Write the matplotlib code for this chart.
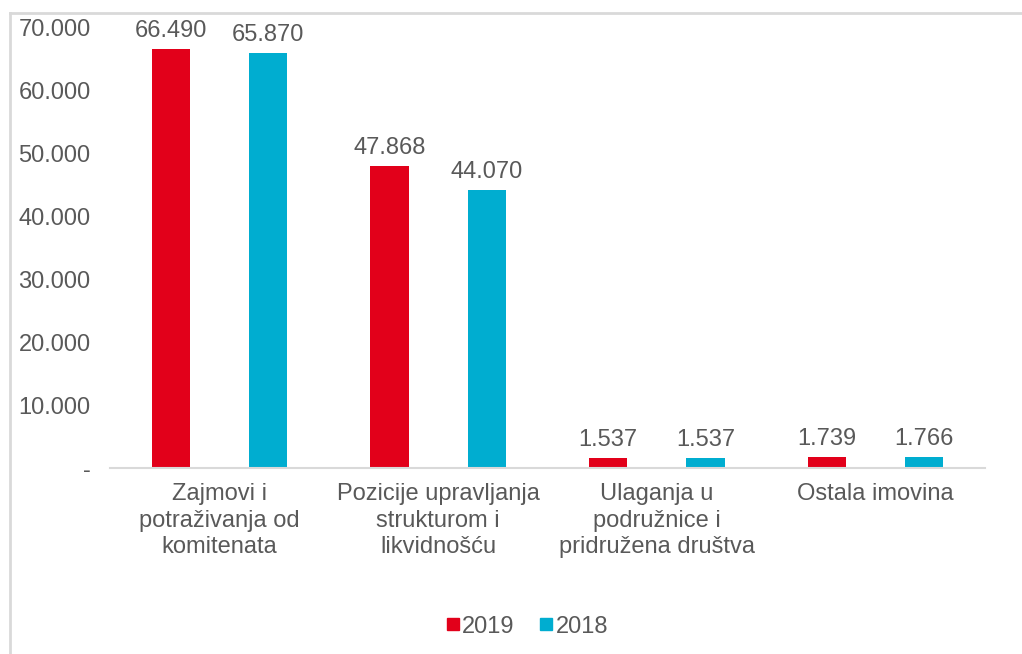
import numpy as np
import matplotlib.pyplot as plt
from matplotlib.lines import Line2D

plt.rcParams['font.family'] = ['Liberation Sans', 'DejaVu Sans']

categories = ["Zajmovi i\npotraživanja od\nkomitenata",
              "Pozicije upravljanja\nstrukturom i\nlikvidnošću",
              "Ulaganja u\npodružnice i\npridružena društva",
              "Ostala imovina"]
values_2019 = [66490, 47868, 1537, 1739]
values_2018 = [65870, 44070, 1537, 1766]
series_names = ["2019", "2018"]

red = "#E2001A"
cyan = "#00ADD0"
text_col = "#595959"
fs = 17

def fmt(v):
    return f"{v:,.0f}".replace(",", ".")

fig = plt.figure(figsize=(10.22, 6.54), dpi=100)
ax = fig.add_axes([0.1076, 0.2844, 0.8562, 0.6743])

x = np.arange(len(categories))
w = 0.175
off = 0.222
b1 = ax.bar(x - off, values_2019, w, color=red, label=series_names[0])
b2 = ax.bar(x + off, values_2018, w, color=cyan, label=series_names[1])

for bars, vals in ((b1, values_2019), (b2, values_2018)):
    for rect, v in zip(bars, vals):
        ax.annotate(fmt(v), (rect.get_x() + rect.get_width() / 2, v),
                    xytext=(0, 5), textcoords="offset points",
                    ha="center", va="bottom", fontsize=fs, color=text_col)

ax.set_xlim(-0.5, len(categories) - 0.5)
ax.set_ylim(0, 70000)
yt = np.arange(0, 70001, 10000)
ax.set_yticks(yt)
ax.set_yticklabels(["-" if v == 0 else fmt(v) for v in yt])
ax.set_xticks(x)
ax.set_xticklabels(categories, linespacing=1.25)
ax.tick_params(axis="y", length=0, pad=14, labelsize=fs, labelcolor=text_col)
ax.tick_params(axis="x", length=0, pad=11, labelsize=fs, labelcolor=text_col)

for s in ("top", "right", "left"):
    ax.spines[s].set_visible(False)
ax.spines["bottom"].set_color("#d9d9d9")
ax.spines["bottom"].set_linewidth(1.5)

handles = [Line2D([], [], marker="s", linestyle="none", color=red, markersize=9),
           Line2D([], [], marker="s", linestyle="none", color=cyan, markersize=9)]
fig.legend(handles, series_names, loc="center", bbox_to_anchor=(0.515, 0.042),
           ncol=2, frameon=False, fontsize=fs, labelcolor=text_col,
           handletextpad=0.05, columnspacing=1.0, handlelength=0.7)

# light frame at the left and top edges
fig.add_artist(Line2D([10 / 1022, 10 / 1022], [0, 1 - 13 / 654],
                      transform=fig.transFigure, color="#d9d9d9", lw=2))
fig.add_artist(Line2D([10 / 1022, 1], [1 - 13 / 654, 1 - 13 / 654],
                      transform=fig.transFigure, color="#d9d9d9", lw=2))

fig.savefig("out.png", dpi=100)
